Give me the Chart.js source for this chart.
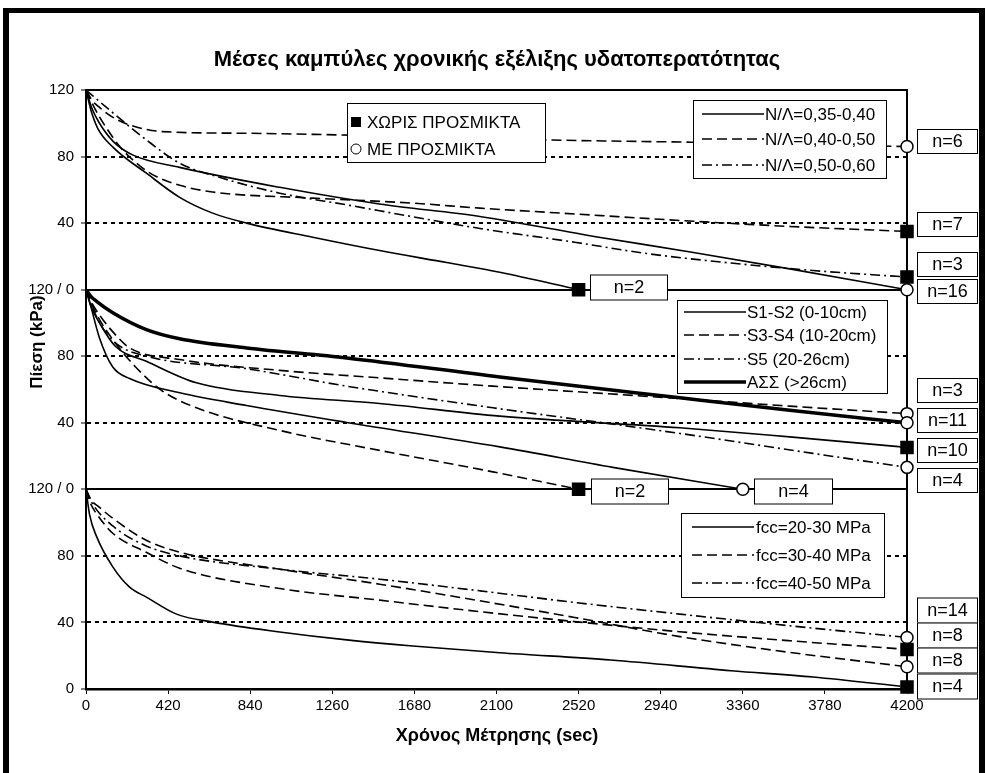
<!DOCTYPE html>
<html>
<head>
<meta charset="utf-8">
<script src="https://cdn.jsdelivr.net/npm/chart.js@4/dist/chart.umd.min.js"></script>
<style>
  html, body { margin: 0; padding: 0; background: #fff; }
</style>
</head>
<body>
<canvas id="grafico" width="987" height="773"></canvas>
<script>
// eixo x (sec) e rotulos do eixo y (tres paineis empilhados de 0-120 kPa)
const tempoTicks = [0, 420, 840, 1260, 1680, 2100, 2520, 2940, 3360, 3780, 4200]
const pressaoTicks = [0, 40, 80, 120, 160, 200, 240, 280, 320, 360]
const rotulosY = ['0', '40', '80', '120 / 0', '40', '80', '120 / 0', '40', '80', '120']
const divisoes = [120, 240]

// painel superior: N/Λ   [tempo, pressao]
const nl3540_com = [[0,120],[30,109],[69,100],[140,89],[238,81],[479,73.5],[991,61.5],[1500,51.5],[2015,44],[2600,32],[3100,22.5],[3600,12.5],[4200,0]]
const nl3540_sem = [[0,120],[25,108],[60,97],[139,85.5],[309,70],[479,55.5],[648,46],[821,40],[1160,31.5],[1502,23.5],[1845,16.3],[2117,10.5],[2520,0]]
const nl4050_com = [[0,120],[30,114],[69,109.5],[136,103.7],[223,99],[392,95],[821,94],[1298,93],[1800,91.8],[2357,90],[3105,88.6],[3700,87.3],[4200,86]]
const nl4050_sem = [[0,120],[40,110],[100,98],[180,85],[280,74],[359,68],[479,62.7],[648,58.7],[1160,55],[1672,52],[2015,49],[2500,45.5],[3038,41.6],[3600,38],[4200,35]]
const nl5060_sem = [[0,120],[100,110],[309,90],[479,76],[683,67.5],[991,58],[1332,51],[1673,43.8],[2015,36.8],[2500,28.5],[2869,21.7],[3300,16],[3719,11.5],[4200,7.6]]

// painel do meio: θέση (βάθος)
const ass_com = [[0,120],[25,116],[54,113],[139,106],[309,96],[479,90.5],[821,85],[1334,79],[2117,67.5],[3038,55],[3600,47.5],[4200,40]]
const s34_com = [[0,120],[30,112],[80,103],[150,93],[223,85],[479,78],[991,71.5],[1502,67],[2082,62],[3038,54.6],[3600,50],[4200,45.5]]
const s5_com = [[0,120],[30,110],[80,98],[150,88],[309,80],[821,72.5],[1334,62],[2082,49],[3038,33.6],[3719,21.6],[4200,13.2]]
const s12_sem = [[0,120],[25,110],[69,100],[150,86],[309,77],[565,64],[991,56.4],[1502,51.6],[2117,44],[3038,37],[3600,31.5],[4200,25.2]]
const s12_com = [[0,120],[18,113],[69,91],[137,73.5],[223,66.6],[479,58],[821,50.4],[1334,40.2],[2117,25.5],[2695,13.2],[3360,0]]
const s34_sem = [[0,120],[30,111],[69,102],[150,88],[250,74],[380,60],[565,49],[991,35.4],[1502,23.4],[2082,10.5],[2520,0]]

// painel inferior: fcc
const fcc2030_sem = [[0,120],[18,105],[55,91.4],[137,73.4],[223,61.2],[309,55.2],[463,45],[648,40.2],[991,34.3],[1334,29.5],[1672,25.8],[2117,21.8],[2685,17.4],[3300,11],[3719,7.2],[4200,1.2]]
const fcc3040_com = [[0,120],[30,113],[60,110],[137,102.6],[308,89.4],[479,82.2],[991,72],[1502,63],[2015,53],[2500,43],[3038,31.5],[3600,22],[4200,13.4]]
const fcc3040_sem = [[0,120],[25,111],[50,106],[137,93.6],[308,82.2],[479,72.6],[991,60.4],[1502,53.4],[2015,46.5],[2500,40.5],[3038,34.4],[3600,29],[4200,23.8]]
const fcc4050_com = [[0,120],[30,112],[137,98],[308,86],[479,80],[991,72],[1502,66],[2015,59],[2500,52],[3038,45],[3600,38],[4200,31]]

// textos
const titulo = 'Μέσες καμπύλες χρονικής εξέλιξης υδατοπερατότητας'
const tituloX = 'Χρόνος Μέτρησης (sec)'
const tituloY = 'Πίεση (kPa)'
const legendaMarcas = ['ΧΩΡΙΣ ΠΡΟΣΜΙΚΤΑ', 'ΜΕ ΠΡΟΣΜΙΚΤΑ']
const legendaNL = ['N/Λ=0,35-0,40', 'N/Λ=0,40-0,50', 'N/Λ=0,50-0,60']
const legendaS = ['S1-S2 (0-10cm)', 'S3-S4 (10-20cm)', 'S5 (20-26cm)', 'ΑΣΣ (>26cm)']
const legendaFcc = ['fcc=20-30 MPa', 'fcc=30-40 MPa', 'fcc=40-50 MPa']
const nDireita = ['n=6', 'n=7', 'n=3', 'n=16', 'n=3', 'n=11', 'n=10', 'n=4', 'n=14', 'n=8', 'n=8', 'n=4']
const nDentro = ['n=2', 'n=2', 'n=4']

const FONTE = '"Liberation Sans", Arial, sans-serif'
const CHEIA = [], TRACO = [10, 5], TRACOPONTO = [10, 4, 2, 4]

const serie = (pontos, offset, dash, largura, marca) => ({
  data: pontos.map(([t, p]) => ({x: t, y: p + offset})),
  borderColor: '#000',
  borderWidth: largura,
  borderDash: dash,
  cubicInterpolationMode: 'monotone',
  fill: false,
  clip: false,
  pointStyle: marca,
  pointRadius: c => c.dataIndex === c.dataset.data.length - 1 ? (marca === 'rect' ? 8.5 : 6) : 0,
  pointBackgroundColor: marca === 'rect' ? '#000' : '#fff',
  pointBorderColor: '#000',
  pointBorderWidth: 1.5
})

const datasets = [
  serie(nl3540_com, 240, CHEIA, 1.6, 'circle'),
  serie(nl3540_sem, 240, CHEIA, 1.6, 'rect'),
  serie(nl4050_com, 240, TRACO, 1.6, 'circle'),
  serie(nl4050_sem, 240, TRACO, 1.6, 'rect'),
  serie(nl5060_sem, 240, TRACOPONTO, 1.6, 'rect'),
  serie(ass_com, 120, CHEIA, 3.5, 'circle'),
  serie(s34_com, 120, TRACO, 1.6, 'circle'),
  serie(s5_com, 120, TRACOPONTO, 1.6, 'circle'),
  serie(s12_sem, 120, CHEIA, 1.6, 'rect'),
  serie(s12_com, 120, CHEIA, 1.6, 'circle'),
  serie(s34_sem, 120, TRACO, 1.6, 'rect'),
  serie(fcc2030_sem, 0, CHEIA, 1.6, 'rect'),
  serie(fcc3040_com, 0, TRACO, 1.6, 'circle'),
  serie(fcc3040_sem, 0, TRACO, 1.6, 'rect'),
  serie(fcc4050_com, 0, TRACOPONTO, 1.6, 'circle')
]

const caixa = (ctx, x, y, w, h) => {
  ctx.fillStyle = '#fff'
  ctx.fillRect(x, y, w, h)
  ctx.strokeStyle = '#000'
  ctx.lineWidth = 1
  ctx.setLineDash([])
  ctx.strokeRect(x + 0.5, y + 0.5, w, h)
}

const caixaN = (ctx, txt, x, yc, w, h) => {
  caixa(ctx, x, yc - h / 2, w, h)
  ctx.fillStyle = '#000'
  ctx.font = '18px ' + FONTE
  ctx.textAlign = 'center'
  ctx.textBaseline = 'middle'
  ctx.fillText(txt, x + w / 2 + 0.5, yc + 1)
}

const legendaLinhas = (ctx, cx, textos, estilos, larguras) => {
  caixa(ctx, cx.x, cx.y, cx.w, cx.h)
  textos.forEach((txt, i) => {
    const yy = cx.linhas[i]
    ctx.save()
    ctx.strokeStyle = '#000'
    ctx.lineWidth = larguras[i]
    ctx.setLineDash(estilos[i])
    ctx.beginPath()
    ctx.moveTo(cx.a1, yy)
    ctx.lineTo(cx.a2, yy)
    ctx.stroke()
    ctx.restore()
    ctx.fillStyle = '#000'
    ctx.font = '17px ' + FONTE
    ctx.textAlign = 'left'
    ctx.textBaseline = 'middle'
    ctx.fillText(txt, cx.tx, yy + 1)
  })
}

const extras = {
  id: 'extras',
  beforeDatasetsDraw(chart) {
    const {ctx, chartArea: a, scales: {y}} = chart
    ctx.save()
    ctx.strokeStyle = '#000'
    ctx.lineWidth = 1.5
    divisoes.forEach(v => {
      const py = y.getPixelForValue(v)
      ctx.beginPath(); ctx.moveTo(a.left, py); ctx.lineTo(a.right, py); ctx.stroke()
    })
    ctx.lineWidth = 2
    ctx.beginPath()
    ctx.moveTo(a.left, a.top); ctx.lineTo(a.right, a.top); ctx.lineTo(a.right, a.bottom)
    ctx.stroke()
    ctx.restore()
  },
  afterDatasetsDraw(chart) {
    const ctx = chart.ctx
    ctx.save()
    // legenda dos simbolos
    caixa(ctx, 347, 103, 198, 59)
    ctx.fillStyle = '#000'
    ctx.fillRect(351, 117, 10, 10)
    ctx.beginPath(); ctx.arc(356, 149, 5, 0, Math.PI * 2)
    ctx.fillStyle = '#fff'; ctx.fill(); ctx.lineWidth = 1; ctx.stroke()
    ctx.fillStyle = '#000'
    ctx.font = '17px ' + FONTE
    ctx.textAlign = 'left'; ctx.textBaseline = 'middle'
    ctx.fillText(legendaMarcas[0], 367, 123)
    ctx.fillText(legendaMarcas[1], 367, 150)

    legendaLinhas(ctx, {x: 693, y: 100, w: 193, h: 78, linhas: [114, 139, 165], a1: 702, a2: 764, tx: 765},
      legendaNL, [CHEIA, TRACO, TRACOPONTO], [1.5, 1.5, 1.5])
    legendaLinhas(ctx, {x: 677, y: 300, w: 210, h: 93, linhas: [312, 335, 359, 382], a1: 684, a2: 746, tx: 747},
      legendaS, [CHEIA, TRACO, TRACOPONTO, CHEIA], [1.5, 1.5, 1.5, 3.5])
    legendaLinhas(ctx, {x: 681, y: 513, w: 203, h: 84, linhas: [527, 555, 583], a1: 692, a2: 754, tx: 756},
      legendaFcc, [CHEIA, TRACO, TRACOPONTO], [1.5, 1.5, 1.5])

    // n= ao lado direito
    const yn = [141, 224, 264, 291, 390, 420, 450, 480, 610, 635, 660, 686]
    nDireita.forEach((t, i) => caixaN(ctx, t, 917, yn[i], 60, i >= 8 ? 25 : 24))
    // n= sobre as divisoes
    caixaN(ctx, nDentro[0], 590, 287, 77, 25)
    caixaN(ctx, nDentro[1], 591, 491, 77, 25)
    caixaN(ctx, nDentro[2], 754, 491, 78, 25)
    ctx.restore()
  },
  afterDraw(chart) {
    const ctx = chart.ctx
    ctx.save()
    ctx.fillStyle = '#000'
    ctx.textAlign = 'center'; ctx.textBaseline = 'middle'
    ctx.font = 'bold 22px ' + FONTE
    ctx.fillText(titulo, 497, 60)
    ctx.font = 'bold 18px ' + FONTE
    ctx.fillText(tituloX, 497, 736)
    ctx.translate(37, 342)
    ctx.rotate(-Math.PI / 2)
    ctx.font = 'bold 17px ' + FONTE
    ctx.fillText(tituloY, 0, 0)
    ctx.restore()
    // moldura externa
    ctx.fillStyle = '#000'
    ctx.fillRect(3, 8, 6, 765)
    ctx.fillRect(3, 8, 982, 5)
    ctx.fillRect(979, 8, 6, 765)
  }
}

new Chart(document.getElementById('grafico'), {
  type: 'line',
  data: { datasets: datasets },
  options: {
    responsive: false,
    animation: false,
    events: [],
    layout: { padding: { top: 90, right: 80, left: 0, bottom: 0 } },
    plugins: { legend: { display: false }, tooltip: { enabled: false }, title: { display: false } },
    scales: {
      x: {
        type: 'linear', min: 0, max: 4200,
        afterBuildTicks: s => { s.ticks = tempoTicks.map(v => ({value: v})) },
        afterFit: s => { s.height = 84 },
        grid: { drawOnChartArea: false, tickLength: 5, tickColor: '#000', tickWidth: 1 },
        border: { color: '#000', width: 2.5 },
        ticks: { color: '#000', padding: 3, maxRotation: 0, font: { family: FONTE, size: 15 }, callback: v => String(v) }
      },
      y: {
        type: 'linear', min: 0, max: 360,
        afterBuildTicks: s => { s.ticks = pressaoTicks.map(v => ({value: v})) },
        afterFit: s => { s.width = 86 },
        grid: {
          color: c => (c.tick && (c.tick.value === 0 || c.tick.value === 360)) ? 'rgba(0,0,0,0)' : '#000',
          lineWidth: 2, tickLength: 5, tickColor: '#000', tickWidth: 1
        },
        border: { color: '#000', width: 2, dash: c => (c.tick && c.tick.value % 120 !== 0) ? [4, 4] : [] },
        ticks: { color: '#000', padding: 7, font: { family: FONTE, size: 15 }, callback: (v, i) => rotulosY[i] }
      }
    }
  },
  plugins: [extras]
})
</script>
</body>
</html>
